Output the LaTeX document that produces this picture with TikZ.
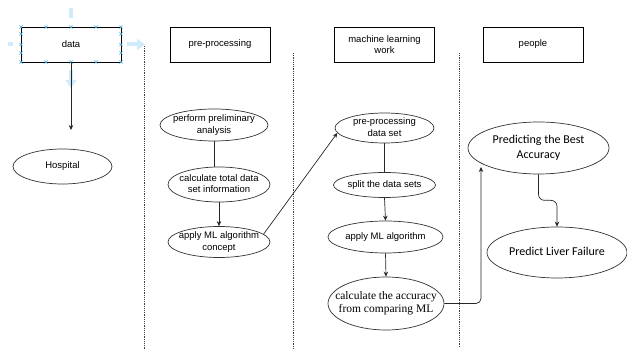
\documentclass[tikz,border=0pt]{standalone}
\usepackage{fontspec}
\setmainfont{Liberation Sans}
\newfontfamily\serifface{Liberation Serif}
\newfontfamily\calface{Carlito}
\usetikzlibrary{shapes.geometric,arrows.meta}
\definecolor{hintblue}{RGB}{208,236,251}
\definecolor{handleblue}{RGB}{70,175,230}
\newcommand\ovaltext[1]{\makebox[0pt]{\begin{tabular}{@{}c@{}}#1\end{tabular}}}

\begin{document}
\begin{tikzpicture}[x=1pt, y=-1pt,
		lane/.style={draw, line width=0.7pt, minimum width=100pt, minimum height=35pt, align=center, font=\fontsize{9.5}{11.5}\selectfont},
		task/.style={ellipse, draw=black!80, line width=0.7pt, inner xsep=0pt, inner ysep=-3pt, font=\fontsize{9.5}{11.5}\selectfont},
		divider/.style={black!75, line width=0.6pt, dash pattern=on 1.2pt off 1pt},
		flow/.style={line width=0.7pt, color=black!85, -{Stealth[length=5pt,width=4.5pt]}},
		link/.style={line width=0.7pt, color=black!85},
		hint/.style={hintblue, line width=4pt},
		handle/.style={handleblue, line width=0.6pt}]
		%%%%% START %%%%%
		
		\useasboundingbox (0,0) rectangle (627,352);
		
		% selection hints round the data box
		\draw[hint] (71,8) -- (71,18);
		\draw[hint] (8,44.5) -- (13,44.5);
		\draw[hint, -{Triangle[length=8pt,width=11pt]}] (127,44.5) -- (145,44.5);
		\draw[hint, -{Triangle[length=8pt,width=11pt]}] (71,70) -- (71,88);
		
		% swimlane dividers
		\draw[divider] (144,46) -- (144,349);
		\draw[divider] (293.5,53) -- (293.5,349);
		\draw[divider] (459,53) -- (459,347);
		
		% lane heads
		\node[lane] (data) at (71,44.5) {data};
		\node[lane] (prep) at (220,44.5) {pre-processing};
		\node[lane] (mlwork) at (384.5,44.5) {machine learning\\work};
		\node[lane] (people) at (533,44.5) {people};
		
		\foreach \hx in {21,46,71,96,121} {
			\foreach \hy in {27,62} {
				\draw[handle] (\hx-1.6,\hy-1.6) -- ++(3.2,3.2) (\hx-1.6,\hy+1.6) -- ++(3.2,-3.2);
			}
		}
		\foreach \hx in {21,121} {
			\foreach \hy in {34,44.5,53} {
				\draw[handle] (\hx-1.6,\hy-1.6) -- ++(3.2,3.2) (\hx-1.6,\hy+1.6) -- ++(3.2,-3.2);
			}
		}
		
		% data lane
		\node[task, minimum width=99pt, minimum height=35pt] (hospital) at (62.5,166.5) {\ovaltext{Hospital}};
		\coordinate (hospin) at (71,130);
		\draw[flow] (data.south) -- (hospin);
		
		% pre-processing lane
		\node[task, minimum width=108pt, minimum height=32pt] (prelim) at (214,125) {\ovaltext{perform preliminary\\analysis}};
		\node[task, minimum width=102pt, minimum height=35pt] (total) at (219,184.5) {\ovaltext{calculate total data\\set information}};
		\node[task, minimum width=102pt, minimum height=31pt] (concept) at (219,242) {\ovaltext{apply ML algorithm\\concept}};
		
		\draw[link] (prelim.south) -- (prelim.south |- total.north);
		\draw[flow] (total.south) -- (concept.north);
		
		% machine learning lane
		\node[task, minimum width=99pt, minimum height=30pt] (ppdata) at (384.5,128) {\ovaltext{pre-processing\\data set}};
		\node[task, minimum width=102pt, minimum height=25pt] (split) at (384.5,185) {\ovaltext{split the data sets}};
		\node[task, minimum width=115pt, minimum height=32pt] (applyml) at (385.5,237) {\ovaltext{apply ML algorithm}};
		\node[task, minimum width=116pt, minimum height=53pt, font=\serifface\fontsize{11.5}{13.5}\selectfont] (accuracy) at (386,303.5) {\ovaltext{calculate the accuracy\\from comparing ML}};
		
		\draw[flow] (concept.10) -- (ppdata.186);
		\draw[link] (ppdata.south) -- (split.north);
		\draw[flow] (split.south) -- (applyml.north);
		\draw[flow] (applyml.south) -- (accuracy.north);
		
		% people lane
		\node[task, minimum width=141pt, minimum height=52pt, font=\calface\fontsize{12}{15}\selectfont] (best) at (538.5,148) {\ovaltext{Predicting the Best\\Accuracy}};
		\node[task, minimum width=140pt, minimum height=51pt, font=\calface\fontsize{12}{15}\selectfont] (failure) at (557,252.5) {\ovaltext{Predict Liver Failure}};
		\coordinate (bestin) at (481,167);
		
		\draw[flow, rounded corners=5pt] (accuracy.east) -| (bestin);
		\draw[flow, rounded corners=6pt] (best.south) -- ++(0,26) -| (failure.north);
		
		%%%%% END %%%%%
	\end{tikzpicture}
\end{document}
